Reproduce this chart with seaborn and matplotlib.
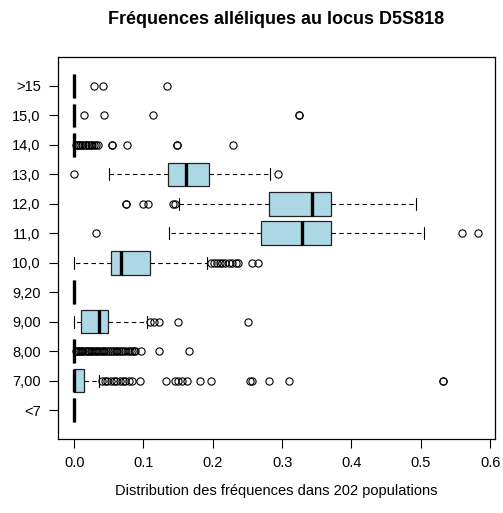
import numpy as np
import pandas as pd
import matplotlib
matplotlib.use("Agg")
import matplotlib.pyplot as plt
import seaborn as sns

# ---------------- data (frequency value, number of populations) ----------------
categories = [">15", "15,0", "14,0", "13,0", "12,0", "11,0",
              "10,0", "9,20", "9,00", "8,00", "7,00", "<7"]
n_pop = 202
x_ticks = [0.0, 0.1, 0.2, 0.3, 0.4, 0.5, 0.6]
x_tick_labels = ["0.0", "0.1", "0.2", "0.3", "0.4", "0.5", "0.6"]

# alleles that are absent in most populations: only non-zero values listed
nz_gt15 = [0.028, 0.042, 0.134]
nz_15_0 = [0.014, 0.043, 0.114, 0.325, 0.325]
nz_14_0 = [0.003, 0.005, 0.006, 0.009, 0.011, 0.012, 0.015, 0.017, 0.020,
           0.021, 0.024, 0.026, 0.029, 0.031, 0.034,
           0.054, 0.054, 0.0756, 0.149, 0.149, 0.229]
nz_9_20 = []
nz_8_00 = [0.003, 0.005, 0.006, 0.008, 0.010, 0.012, 0.013, 0.015, 0.018,
           0.020, 0.021, 0.024, 0.026, 0.028, 0.031, 0.033, 0.036, 0.038,
           0.041, 0.043, 0.046, 0.049, 0.051, 0.054, 0.057, 0.060, 0.062,
           0.065, 0.068, 0.071, 0.074, 0.077, 0.080, 0.083, 0.086, 0.088,
           0.096, 0.123, 0.165]
nz_lt7 = []

# alleles with a real box: value / count tables
v_13_0 = [0.0, 0.0496, 0.068, 0.085, 0.098, 0.110, 0.120, 0.129, 0.136, 0.142,
          0.148, 0.153, 0.157, 0.161, 0.167, 0.174, 0.181, 0.188, 0.195, 0.205,
          0.217, 0.230, 0.245, 0.260, 0.272, 0.283, 0.294]
n_13_0 = [1, 1, 2, 4, 8, 10, 12, 12, 4, 12, 12, 12, 10, 4, 12, 12, 12, 10, 4,
          14, 12, 9, 6, 4, 1, 1, 1]

v_12_0 = [0.0746, 0.0996, 0.107, 0.143, 0.145, 0.151, 0.172, 0.195, 0.218,
          0.238, 0.256, 0.270, 0.281, 0.296, 0.310, 0.323, 0.335, 0.343, 0.348,
          0.354, 0.360, 0.365, 0.370, 0.382, 0.398, 0.415, 0.434, 0.455, 0.475,
          0.493]
n_12_0 = [2, 1, 1, 1, 1, 1, 2, 4, 6, 8, 11, 12, 4, 12, 12, 12, 10, 4, 12, 12,
          12, 10, 4, 14, 10, 8, 7, 5, 3, 1]

v_11_0 = [0.031, 0.137, 0.165, 0.190, 0.212, 0.232, 0.248, 0.260, 0.270, 0.283,
          0.296, 0.308, 0.319, 0.329, 0.338, 0.346, 0.354, 0.362, 0.370, 0.384,
          0.400, 0.418, 0.438, 0.460, 0.482, 0.505, 0.560, 0.583]
n_11_0 = [1, 1, 2, 4, 8, 10, 12, 12, 4, 12, 12, 12, 10, 4, 12, 12, 12, 10, 4,
          12, 10, 8, 7, 5, 3, 1, 1, 1]

v_10_0 = [0.0, 0.012, 0.025, 0.034, 0.041, 0.047, 0.0525, 0.056, 0.060, 0.064,
          0.0674, 0.074, 0.082, 0.091, 0.101, 0.110, 0.122, 0.135, 0.148, 0.160,
          0.172, 0.183, 0.191, 0.198, 0.202, 0.206, 0.210, 0.213, 0.218, 0.223,
          0.228, 0.233, 0.237, 0.256, 0.2655]
n_10_0 = [2, 3, 6, 10, 14, 15, 4, 16, 16, 14, 4, 12, 12, 12, 10, 4, 9, 8, 7, 5,
          4, 2, 1, 1, 1, 1, 1, 1, 1, 1, 1, 1, 1, 1, 1]

v_9_00 = [0.0, 0.004, 0.007, 0.0092, 0.015, 0.022, 0.028, 0.033, 0.036, 0.040,
          0.044, 0.047, 0.049, 0.056, 0.064, 0.073, 0.082, 0.093, 0.105, 0.110,
          0.115, 0.122, 0.150, 0.251]
n_9_00 = [20, 15, 15, 4, 12, 12, 12, 10, 4, 15, 16, 15, 4, 12, 10, 8, 6, 4, 3,
          1, 1, 1, 1, 1]

v_7_00 = [0.0, 0.004, 0.007, 0.010, 0.012, 0.0144, 0.018, 0.022, 0.026, 0.030,
          0.0356, 0.040, 0.044, 0.048, 0.053, 0.057, 0.061, 0.066, 0.070, 0.074,
          0.079, 0.083, 0.095, 0.133, 0.145, 0.150, 0.156, 0.163, 0.181, 0.198,
          0.254, 0.257, 0.281, 0.310, 0.532]
n_7_00 = [110, 8, 10, 12, 10, 6, 6, 5, 4, 4, 2, 1, 1, 1, 1, 1, 1, 1, 1, 1, 1,
          1, 1, 1, 1, 1, 1, 1, 1, 1, 1, 1, 1, 1, 2]

# ---------------- build long table ----------------
def from_nonzero(nz):
    return np.concatenate([np.zeros(n_pop - len(nz)), np.asarray(nz, float)])

def from_table(v, n):
    return np.repeat(np.asarray(v, float), n)

samples = {
    ">15": from_nonzero(nz_gt15),
    "15,0": from_nonzero(nz_15_0),
    "14,0": from_nonzero(nz_14_0),
    "13,0": from_table(v_13_0, n_13_0),
    "12,0": from_table(v_12_0, n_12_0),
    "11,0": from_table(v_11_0, n_11_0),
    "10,0": from_table(v_10_0, n_10_0),
    "9,20": from_nonzero(nz_9_20),
    "9,00": from_table(v_9_00, n_9_00),
    "8,00": from_nonzero(nz_8_00),
    "7,00": from_table(v_7_00, n_7_00),
    "<7": from_nonzero(nz_lt7),
}
df = pd.concat([pd.DataFrame({"allele": k, "freq": v}) for k, v in samples.items()],
               ignore_index=True)

# ---------------- plot ----------------
sns.set_theme(style="white")
plt.rcParams["font.family"] = ["Liberation Sans", "DejaVu Sans"]
plt.rcParams["text.color"] = "black"

W, H = 503, 513
fig = plt.figure(figsize=(W / 100, H / 100), dpi=100)
L, R, T, B = 58, 495, 57, 439
ax = fig.add_axes([L / W, 1 - B / H, (R - L) / W, (B - T) / H])

sns.boxplot(data=df, x="freq", y="allele", order=categories, orient="h",
            color="#ADD8E6", saturation=1, width=0.8, linecolor="black",
            linewidth=0.9, whis=1.5, ax=ax,
            medianprops=dict(linewidth=2.4, color="black"),
            whiskerprops=dict(linestyle=(0, (4, 3)), linewidth=0.8, color="black"),
            capprops=dict(linewidth=0.8, color="black"),
            boxprops=dict(edgecolor="#222222"),
            flierprops=dict(marker="o", markerfacecolor="none",
                            markeredgecolor="black", markersize=5.2,
                            markeredgewidth=0.8))

ax.set_xlim(-0.0233, 0.607)
ax.set_ylim(len(categories) - 1 + 0.98, -0.98)
ax.set_xticks(x_ticks)
ax.set_xticklabels(x_tick_labels)
ax.set_xlabel("")
ax.set_ylabel("")
for s in ax.spines.values():
    s.set_visible(True)
    s.set_color("black")
    s.set_linewidth(0.9)
ax.tick_params(axis="both", which="major", bottom=True, left=True,
               direction="out", length=6.5, width=0.8, color="black",
               labelsize=10.5, labelcolor="black")
ax.tick_params(axis="x", pad=6)
ax.tick_params(axis="y", pad=6)

fig.text(276 / W, 1 - 20 / H, "Fréquences alléliques au locus D5S818",
         ha="center", va="center", fontsize=13, fontweight="bold", color="black")
fig.text(276 / W, 1 - 491 / H, "Distribution des fréquences dans 202 populations",
         ha="center", va="center", fontsize=10.5, color="black")

fig.savefig("out.png", dpi=100)
